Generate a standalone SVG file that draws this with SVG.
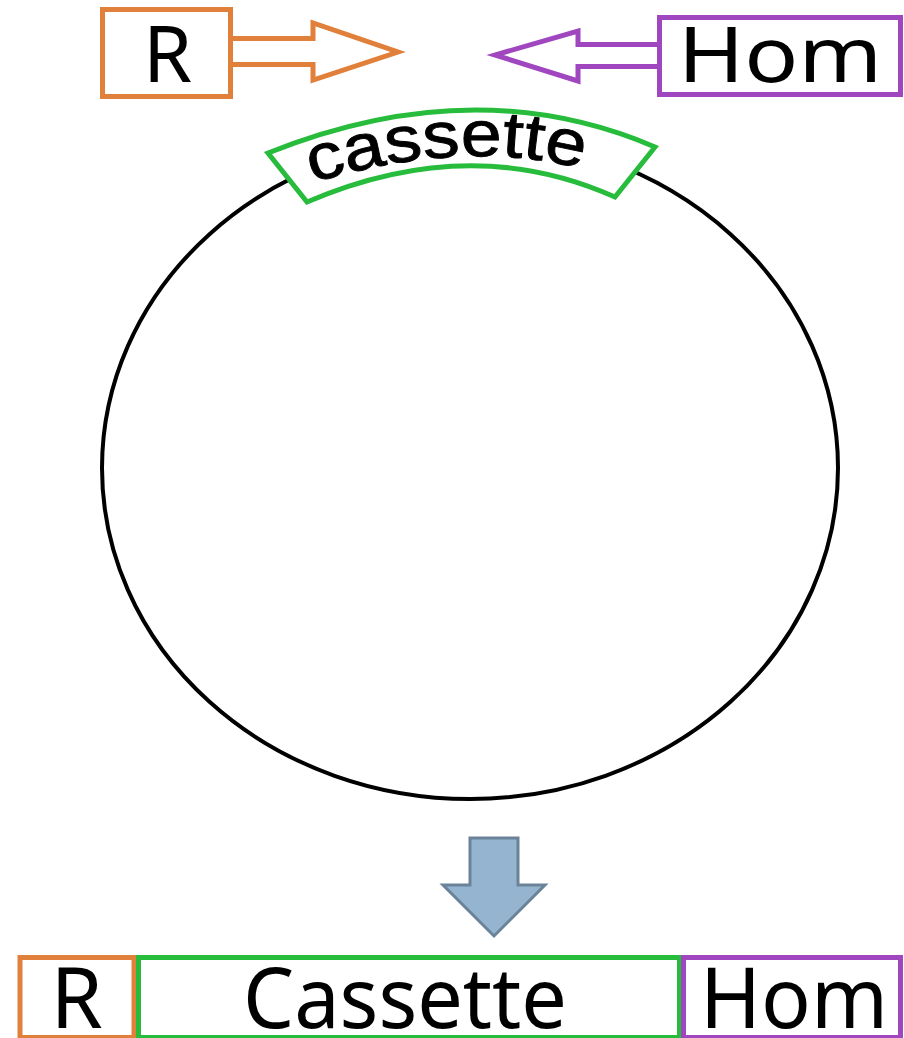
<svg xmlns="http://www.w3.org/2000/svg" width="904" height="1038" viewBox="0 0 904 1038">
<style>
.txt{font-family:"Noto Sans","Open Sans","Liberation Sans",sans-serif;fill:#000}
.arc{font-family:"Liberation Sans",Arial,sans-serif;fill:#000;stroke:#000;stroke-width:0.9}
.or{stroke:#E0803A;stroke-width:5;fill:#fff}
.pu{stroke:#A046BE;stroke-width:5;fill:#fff}
.gr{stroke:#27BC3C;stroke-width:5;fill:#fff}
</style>
<defs>
<path id="arcText" d="M312,183 Q468,136 590,171"/>
</defs>
<rect width="904" height="1038" fill="#fff"/>
<g id="plasmid">
<ellipse cx="470" cy="468" rx="368" ry="331" fill="none" stroke="#000" stroke-width="4"/>
</g>
<g id="connectors">
<path class="or" d="M233,38.5 H313 V23 L398,52 L313,80 V64.5 H233" stroke-linejoin="miter"/>
<path class="pu" d="M657,44.5 H578 V31 L495,55 L578,81 V66.5 H657" stroke-linejoin="miter"/>
<path d="M470,838 H518 V885 H545 L494,936 L443,885 H470 Z" fill="#94B4D0" stroke="#6A8399" stroke-width="3" stroke-linejoin="miter"/>
</g>
<g id="node-R-top">
<rect class="or" x="102.5" y="9.5" width="128" height="87"/>
<text class="txt" x="167.5" y="82" font-size="79" text-anchor="middle">R</text>
</g>
<g id="node-Hom-top">
<rect class="pu" x="659.5" y="17.5" width="241" height="77"/>
<text class="txt" x="678" y="82" font-size="76" textLength="204" lengthAdjust="spacingAndGlyphs">Hom</text>
</g>
<g id="node-cassette-arc">
<path class="gr" d="M268,153 Q475,70 655,147 L615,197 Q470,132 307,202 Z"/>
<text class="arc" font-size="65"><textPath href="#arcText" textLength="274" lengthAdjust="spacingAndGlyphs">cassette</textPath></text>
</g>
<g id="node-R-bottom">
<rect class="or" x="20" y="957.5" width="114" height="80"/>
<text class="txt" x="76.5" y="1028" font-size="84" text-anchor="middle">R</text>
</g>
<g id="node-Cassette-bottom">
<rect class="gr" x="138.5" y="957.5" width="541" height="80"/>
<text class="txt" x="243" y="1028" font-size="84" textLength="324" lengthAdjust="spacingAndGlyphs">Cassette</text>
</g>
<g id="node-Hom-bottom">
<rect class="pu" x="683.5" y="957.5" width="217" height="80"/>
<text class="txt" x="700" y="1028" font-size="84" textLength="188" lengthAdjust="spacingAndGlyphs">Hom</text>
</g>
</svg>
